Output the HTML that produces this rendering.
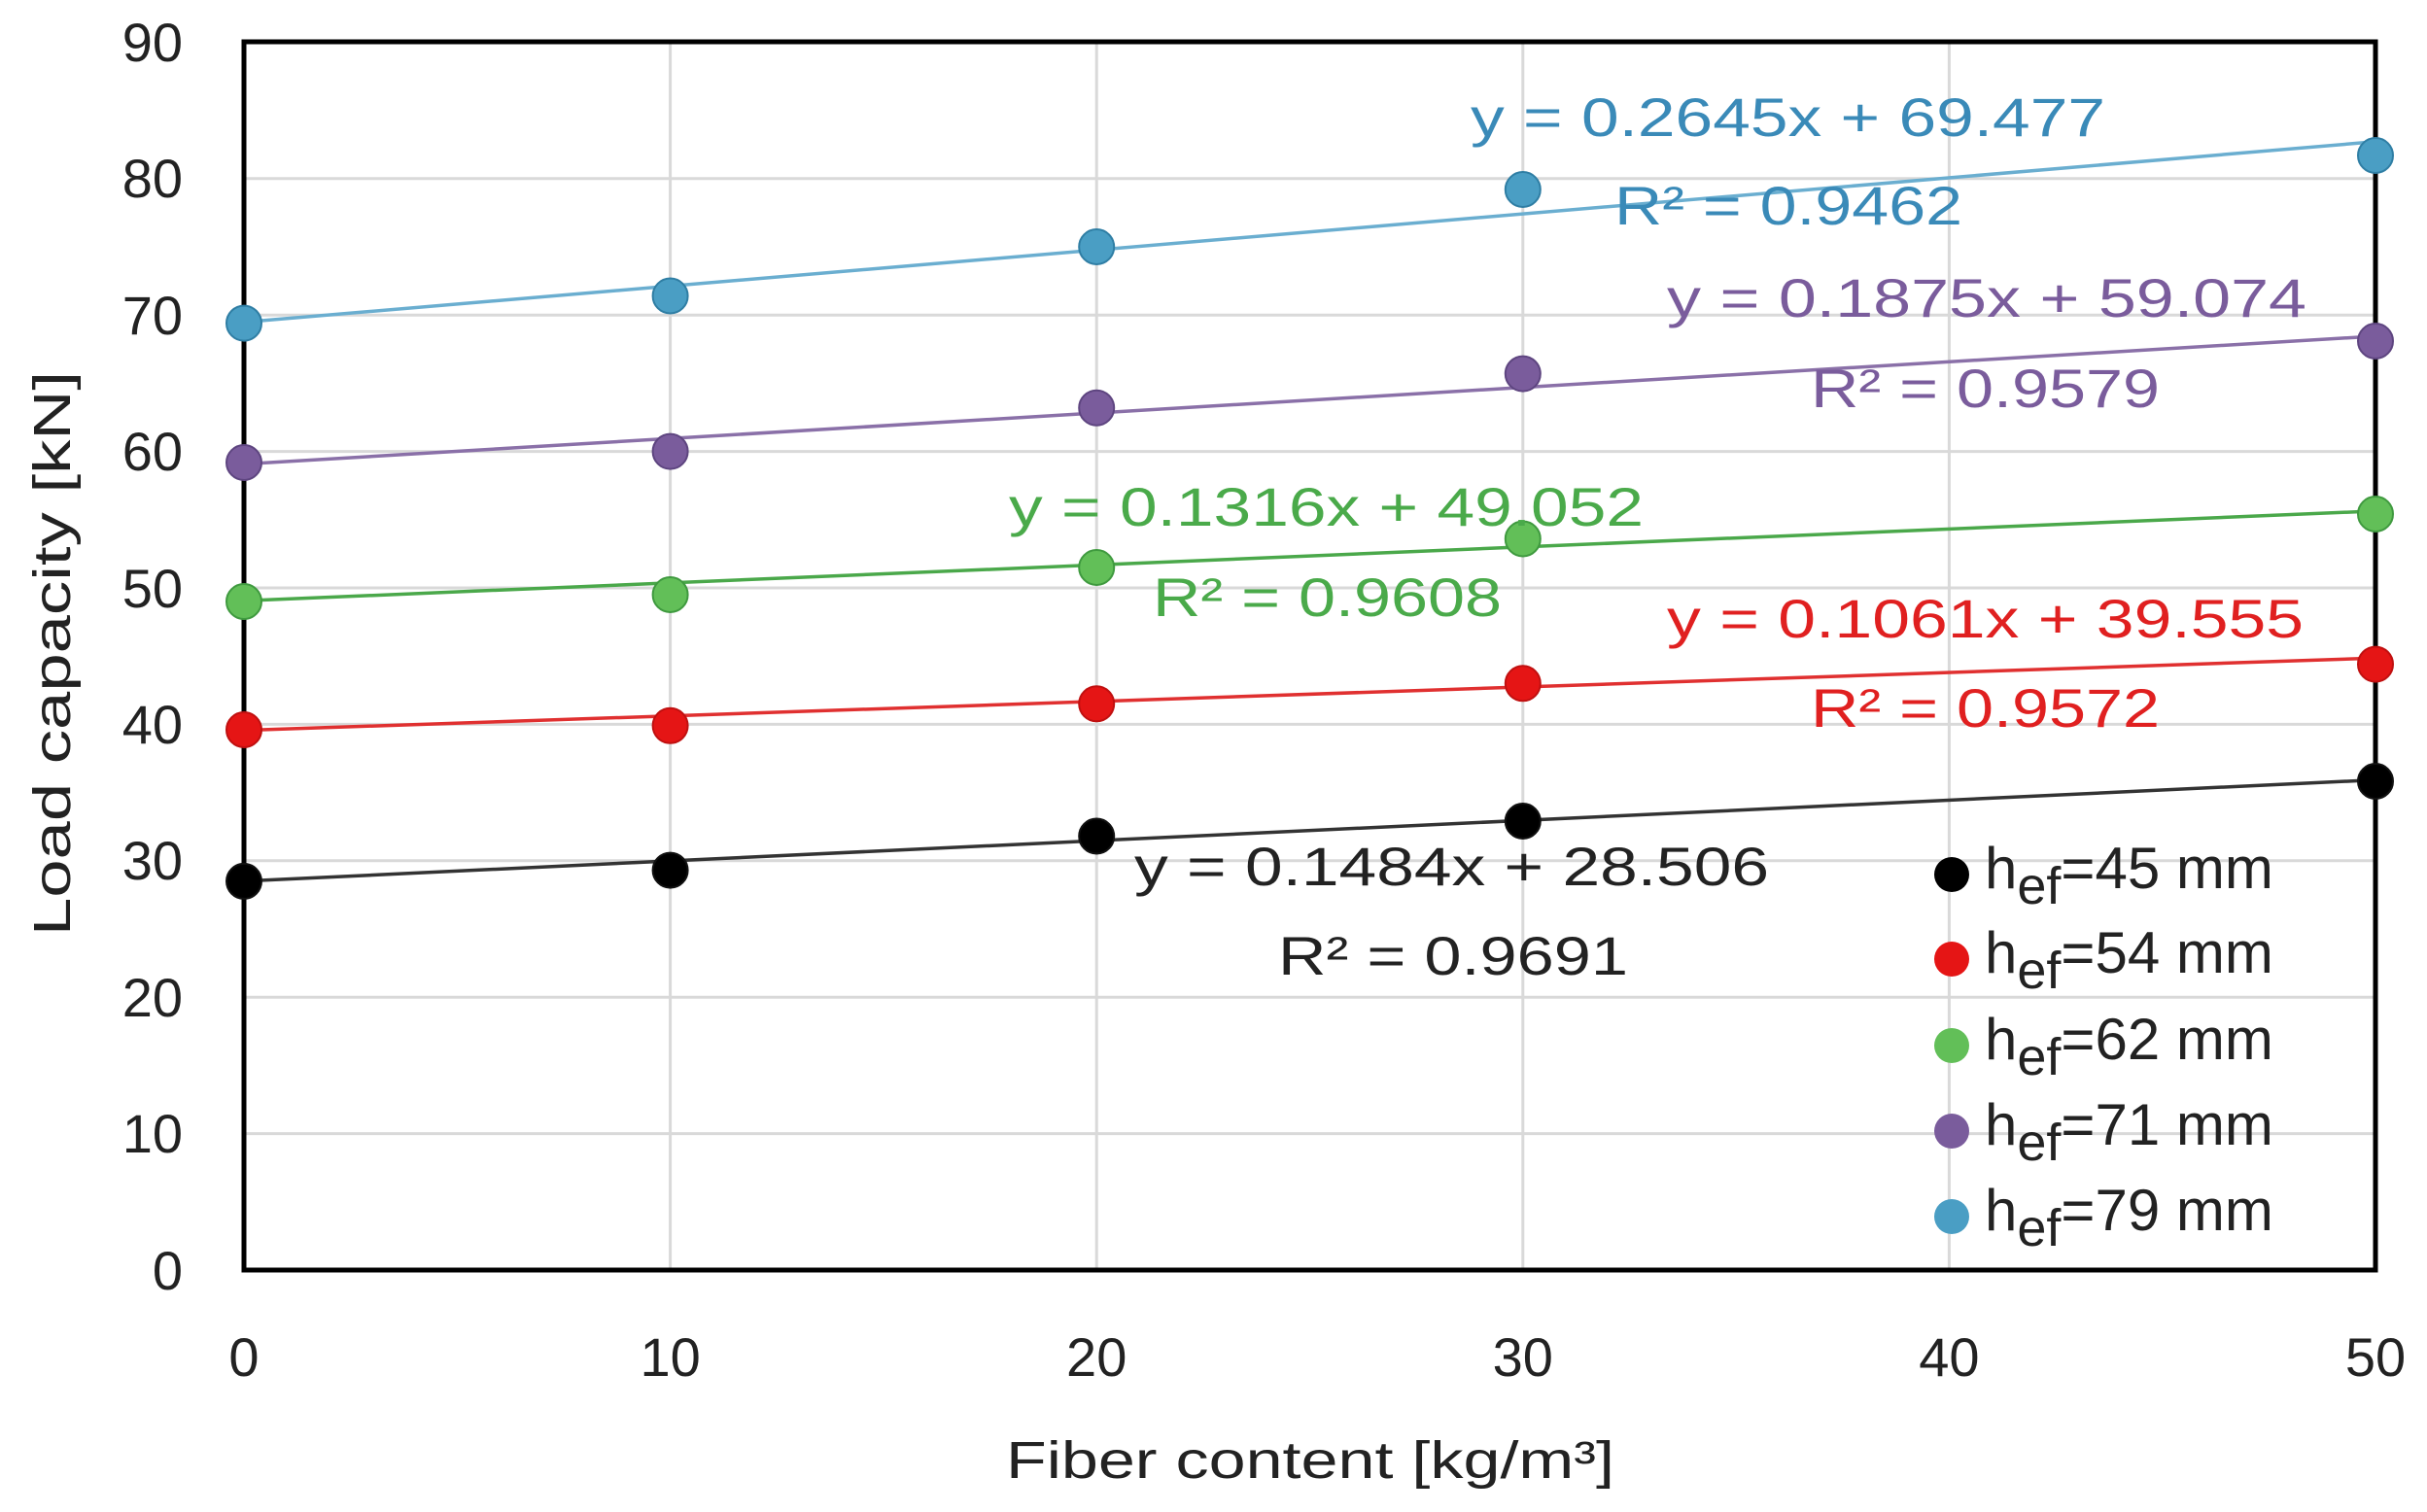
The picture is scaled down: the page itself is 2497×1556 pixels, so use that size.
<!DOCTYPE html>
<html><head><meta charset="utf-8"><style>html,body{margin:0;padding:0;background:#fff}svg{display:block}</style></head>
<body>
<svg width="2497" height="1556" viewBox="0 0 2497 1556" xmlns="http://www.w3.org/2000/svg" font-family="'Liberation Sans', 'DejaVu Sans', sans-serif">
<rect width="2497" height="1556" fill="#fff"/>
<g stroke="#d9d9d9" stroke-width="3">
<line x1="251" y1="1166.6" x2="2444" y2="1166.6"/>
<line x1="251" y1="1026.2" x2="2444" y2="1026.2"/>
<line x1="251" y1="885.8" x2="2444" y2="885.8"/>
<line x1="251" y1="745.4" x2="2444" y2="745.4"/>
<line x1="251" y1="605" x2="2444" y2="605"/>
<line x1="251" y1="464.6" x2="2444" y2="464.6"/>
<line x1="251" y1="324.2" x2="2444" y2="324.2"/>
<line x1="251" y1="183.8" x2="2444" y2="183.8"/>
<line x1="689.6" y1="43" x2="689.6" y2="1307"/>
<line x1="1128.2" y1="43" x2="1128.2" y2="1307"/>
<line x1="1566.8" y1="43" x2="1566.8" y2="1307"/>
<line x1="2005.4" y1="43" x2="2005.4" y2="1307"/>
</g>
<rect x="251" y="43" width="2193" height="1264" fill="none" stroke="#000" stroke-width="5"/>
<g font-size="56" fill="#222" text-anchor="end">
<text x="188" y="1327">0</text>
<text x="188" y="1186">10</text>
<text x="188" y="1046">20</text>
<text x="188" y="905">30</text>
<text x="188" y="765">40</text>
<text x="188" y="625">50</text>
<text x="188" y="484">60</text>
<text x="188" y="344">70</text>
<text x="188" y="203">80</text>
<text x="188" y="63">90</text>
</g>
<g font-size="56" fill="#222" text-anchor="middle">
<text x="251" y="1416">0</text>
<text x="689.6" y="1416">10</text>
<text x="1128.2" y="1416">20</text>
<text x="1566.8" y="1416">30</text>
<text x="2005.4" y="1416">40</text>
<text x="2444" y="1416">50</text>
</g>
<text x="1035" y="1521" font-size="54" fill="#222" textLength="626" lengthAdjust="spacingAndGlyphs">Fiber content [kg/m³]</text>
<text transform="translate(72,963) rotate(-90)" font-size="54" fill="#222" textLength="581" lengthAdjust="spacingAndGlyphs">Load capacity [kN]</text>

<line x1="251" y1="906.8" x2="2444" y2="802.6" stroke="#333" stroke-width="3.5"/>
<g fill="#000" stroke="#111" stroke-width="2">
<circle cx="251" cy="906.9" r="18"/><circle cx="689.6" cy="895.6" r="18"/><circle cx="1128.2" cy="860.5" r="18"/><circle cx="1566.8" cy="845" r="18"/><circle cx="2444" cy="804" r="18"/>
</g>
<line x1="251" y1="751.6" x2="2444" y2="677.2" stroke="#e03030" stroke-width="3.5"/>
<g fill="#e51515" stroke="#c01010" stroke-width="2">
<circle cx="251" cy="751" r="18"/><circle cx="689.6" cy="746.8" r="18"/><circle cx="1128.2" cy="724.3" r="18"/><circle cx="1566.8" cy="703.3" r="18"/><circle cx="2444" cy="683.6" r="18"/>
</g>
<line x1="251" y1="618.3" x2="2444" y2="525.9" stroke="#4aa84a" stroke-width="3.5"/>
<g fill="#62bf58" stroke="#3f9a3f" stroke-width="2">
<circle cx="251" cy="619" r="18"/><circle cx="689.6" cy="612" r="18"/><circle cx="1128.2" cy="584" r="18"/><circle cx="1566.8" cy="554.5" r="18"/><circle cx="2444" cy="529" r="18"/>
</g>
<line x1="251" y1="477.6" x2="2444" y2="346" stroke="#8a70a8" stroke-width="3.5"/>
<g fill="#7a5c9c" stroke="#5e4580" stroke-width="2">
<circle cx="251" cy="476" r="18"/><circle cx="689.6" cy="464.6" r="18"/><circle cx="1128.2" cy="419.7" r="18"/><circle cx="1566.8" cy="384.6" r="18"/><circle cx="2444" cy="351" r="18"/>
</g>
<line x1="251" y1="331.5" x2="2444" y2="145.8" stroke="#6aaed0" stroke-width="3.5"/>
<g fill="#4a9ec4" stroke="#2f7ea4" stroke-width="2">
<circle cx="251" cy="332.6" r="18"/><circle cx="689.6" cy="304.5" r="18"/><circle cx="1128.2" cy="254" r="18"/><circle cx="1566.8" cy="195" r="18"/><circle cx="2444" cy="160" r="18"/>
</g>

<g font-size="56">
<text x="1513" y="140" fill="#3a8ab8" textLength="653" lengthAdjust="spacingAndGlyphs">y = 0.2645x + 69.477</text>
<text x="1661" y="231" fill="#3a8ab8" textLength="358" lengthAdjust="spacingAndGlyphs">R² = 0.9462</text>
<text x="1715" y="326" fill="#7a5c9c" textLength="658" lengthAdjust="spacingAndGlyphs">y = 0.1875x + 59.074</text>
<text x="1863" y="419" fill="#7a5c9c" textLength="359" lengthAdjust="spacingAndGlyphs">R² = 0.9579</text>
<text x="1038" y="541" fill="#4aaa4a" textLength="653" lengthAdjust="spacingAndGlyphs">y = 0.1316x + 49.052</text>
<text x="1186" y="634" fill="#4aaa4a" textLength="359" lengthAdjust="spacingAndGlyphs">R² = 0.9608</text>
<text x="1715" y="656" fill="#e02020" textLength="655" lengthAdjust="spacingAndGlyphs">y = 0.1061x + 39.555</text>
<text x="1863" y="748" fill="#e02020" textLength="359" lengthAdjust="spacingAndGlyphs">R² = 0.9572</text>
<text x="1167" y="911" fill="#222" textLength="653" lengthAdjust="spacingAndGlyphs">y = 0.1484x + 28.506</text>
<text x="1315" y="1003" fill="#222" textLength="360" lengthAdjust="spacingAndGlyphs">R² = 0.9691</text>
</g>

<g font-size="60" fill="#222">
<circle cx="2008" cy="900" r="18" fill="#000"/>
<text x="2042" y="914">h<tspan dy="16" font-size="54">ef</tspan><tspan dy="-16">=45 mm</tspan></text>
<circle cx="2008" cy="987" r="18" fill="#e51515"/>
<text x="2042" y="1001">h<tspan dy="16" font-size="54">ef</tspan><tspan dy="-16">=54 mm</tspan></text>
<circle cx="2008" cy="1076" r="18" fill="#62bf58"/>
<text x="2042" y="1090">h<tspan dy="16" font-size="54">ef</tspan><tspan dy="-16">=62 mm</tspan></text>
<circle cx="2008" cy="1164" r="18" fill="#7a5c9c"/>
<text x="2042" y="1178">h<tspan dy="16" font-size="54">ef</tspan><tspan dy="-16">=71 mm</tspan></text>
<circle cx="2008" cy="1252" r="18" fill="#4a9ec4"/>
<text x="2042" y="1266">h<tspan dy="16" font-size="54">ef</tspan><tspan dy="-16">=79 mm</tspan></text>
</g>
</svg>
</body></html>
